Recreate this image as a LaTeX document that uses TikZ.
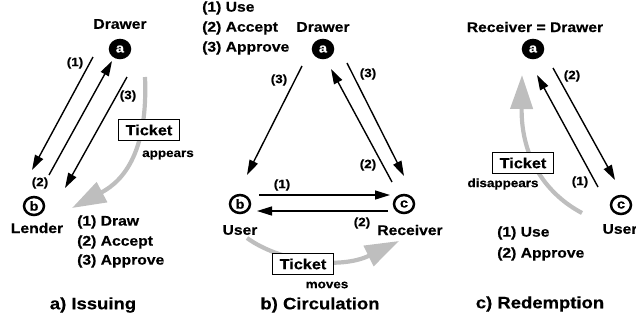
\documentclass[tikz,border=0pt]{standalone}
\usepackage{fontspec}
\newfontfamily\labelfont{Liberation Sans Bold}[FakeStretch=1.12, FakeBold=0.4]
\usetikzlibrary{arrows.meta,shapes.geometric}
\definecolor{flowgray}{RGB}{190,190,190}

\tikzset{
  party/.style={ellipse, minimum width=20pt, minimum height=18pt, inner sep=0pt,
    line width=2.5pt, draw=black, font=\labelfont\fontsize{13}{13}\selectfont},
  partyfill/.style={party, fill=black, text=white},
  partyopen/.style={party, fill=white},
  role/.style={font=\labelfont\fontsize{14}{14}\selectfont, inner sep=0pt},
  msglabel/.style={font=\labelfont\fontsize{12}{12}\selectfont, inner sep=0pt},
  listline/.style={font=\labelfont\fontsize{14}{14}\selectfont, inner sep=0pt, anchor=west},
  ticket/.style={draw, line width=1.4pt, fill=white, minimum width=61pt,
    minimum height=21pt, inner sep=0pt, font=\labelfont\fontsize{14.5}{14.5}\selectfont},
  caption/.style={font=\labelfont\fontsize{16.5}{16.5}\selectfont, inner sep=0pt},
  msg/.style={line width=1.4pt, -{Triangle[length=15pt,width=9pt]}},
  flow/.style={line width=4.2pt, draw=flowgray, -{Triangle[length=34pt,width=22pt,fill=flowgray]}},
}

\begin{document}
\begin{tikzpicture}[x=1pt, y=-1pt]
\useasboundingbox (0,0) rectangle (636,322);

% ---------------- a) Issuing ----------------
\node[partyfill] (ia) at (120,49) {a};
\node[partyopen] (ib) at (34,206) {b};
\node[role] (iaName) at (120,24) {Drawer};
\node[role] (ibName) at (37,228) {Lender};

\coordinate (i1s) at (93,57);  \coordinate (i1e) at (32,170);
\coordinate (i2s) at (49,175); \coordinate (i2e) at (112,61);
\coordinate (i3s) at (127,77); \coordinate (i3e) at (65,188);
\coordinate (igs) at (145,77); \coordinate (ige) at (72,208);

\draw[flow] (igs) .. controls (148,150) and (125,180) .. (ige);
\draw[msg] (i1s) -- (i1e);
\draw[msg] (i2s) -- (i2e);
\draw[msg] (i3s) -- (i3e);

\node[msglabel] (il1) at (75,63) {(1)};
\node[msglabel] (il2) at (40,183) {(2)};
\node[msglabel] (il3) at (128,96) {(3)};

\node[ticket] (it) at (149,130) {Ticket};
\node[msglabel] (itx) at (168,155) {appears};

\node[listline] (ilist1) at (77,222) {(1) Draw};
\node[listline] (ilist2) at (77,242) {(2) Accept};
\node[listline] (ilist3) at (77,261) {(3) Approve};

\node[caption] (icap) at (93,305) {a) Issuing};

% ---------------- b) Circulation ----------------
\node[partyfill] (ca) at (323,49) {a};
\node[partyopen] (cb) at (240,204) {b};
\node[partyopen] (cc) at (404,204) {c};
\node[role] (caName) at (323,27) {Drawer};
\node[role] (cbName) at (240,230) {User};
\node[role] (ccName) at (410,230) {Receiver};

\coordinate (c3ls) at (302,66);  \coordinate (c3le) at (247,175);
\coordinate (c2rs) at (392,182); \coordinate (c2re) at (331,69);
\coordinate (c3rs) at (347,63);  \coordinate (c3re) at (404,176);
\coordinate (c1s) at (259,195);  \coordinate (c1e) at (390,195);
\coordinate (c2s) at (388,211);  \coordinate (c2e) at (257,211);
\coordinate (cgs) at (247,238);  \coordinate (cge) at (399,241);

\draw[flow] (cgs) .. controls (280,262) and (340,270) .. (cge);
\draw[msg] (c3ls) -- (c3le);
\draw[msg] (c2rs) -- (c2re);
\draw[msg] (c3rs) -- (c3re);
\draw[msg] (c1s) -- (c1e);
\draw[msg] (c2s) -- (c2e);

\node[msglabel] (cl3l) at (279,80) {(3)};
\node[msglabel] (cl3r) at (368,74) {(3)};
\node[msglabel] (cl2r) at (368,165) {(2)};
\node[msglabel] (cl1) at (282,185) {(1)};
\node[msglabel] (cl2) at (362,223) {(2)};

\node[ticket] (ct) at (303,264) {Ticket};
\node[msglabel] (ctx) at (327,285) {moves};

\node[listline] (clist1) at (202,8) {(1) Use};
\node[listline] (clist2) at (202,28) {(2) Accept};
\node[listline] (clist3) at (202,48) {(3) Approve};

\node[caption] (ccap) at (320,305) {b) Circulation};

% ---------------- c) Redemption ----------------
\node[partyfill] (ra) at (533,49) {a};
\node[partyopen] (rc) at (621,205) {c};
\node[role] (raName) at (535,27) {Receiver = Drawer};
\node[role] (rcName) at (620,229) {User};

\coordinate (r2s) at (553,68);  \coordinate (r2e) at (615,180);
\coordinate (r1s) at (598,187); \coordinate (r1e) at (537,75);
\coordinate (rgs) at (582,213); \coordinate (rge) at (522,75);

\draw[flow] (rgs) .. controls (548,195) and (521,160) .. (rge);
\draw[msg] (r2s) -- (r2e);
\draw[msg] (r1s) -- (r1e);

\node[msglabel] (rl2) at (572,76) {(2)};
\node[msglabel] (rl1) at (580,182) {(1)};

\node[ticket] (rt) at (523,163) {Ticket};
\node[msglabel] (rtx) at (503,184) {disappears};

\node[listline] (rlist1) at (497,233) {(1) Use};
\node[listline] (rlist2) at (497,254) {(2) Approve};

\node[caption] (rcap) at (540,304) {c) Redemption};
\end{tikzpicture}
\end{document}
